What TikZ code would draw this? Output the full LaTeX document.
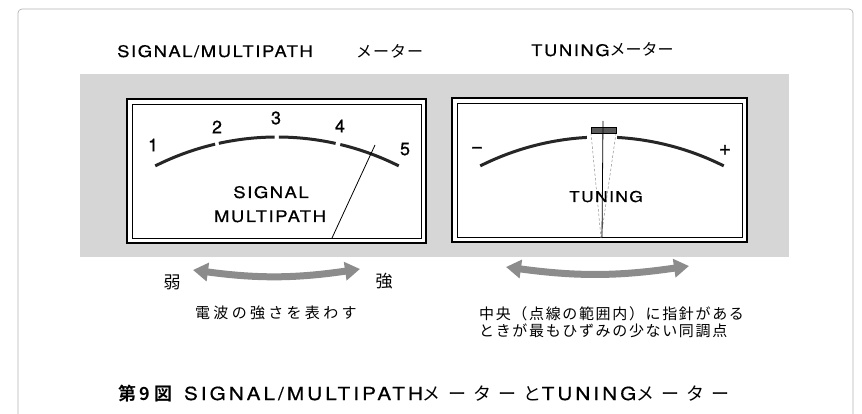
\documentclass[tikz,border=0pt]{standalone}
\usepackage{fontspec}
\usetikzlibrary{arrows.meta}
% Latin lettering: a wide, loosely spaced grotesque
\newfontfamily\lat[FakeStretch=1.15,LetterSpace=10,FakeBold=0.6]{TeX Gyre Heros}
\newfontfamily\latcap[FakeStretch=1.15,LetterSpace=17,FakeBold=0.6]{TeX Gyre Heros}
\newfontfamily\dig[FakeBold=0.8]{TeX Gyre Heros}
% Japanese lettering
\newfontfamily\jp{Noto Sans CJK JP}
\newfontfamily\jptitle[LetterSpace=6]{Noto Sans CJK JP}
\newfontfamily\jpwide[LetterSpace=22]{Noto Sans CJK JP}
\newfontfamily\jpnote[LetterSpace=11]{Noto Sans CJK JP}
\newfontfamily\jpcap[LetterSpace=40]{Noto Sans CJK JP}
\newfontfamily\jpbold[LetterSpace=20]{Noto Sans CJK JP Bold}
\newcommand\fs[1]{\fontsize{#1}{#1}\selectfont}
\begin{document}
\begin{tikzpicture}[x=1pt,y=-1pt,
  frame/.style={draw=black!30,line width=0.7pt},
  band/.style={fill=black!16},
  outerbox/.style={draw=black,line width=2pt,fill=white},
  innerbox/.style={draw=black,line width=0.7pt},
  scalearc/.style={draw=black!85,line width=3pt},
  needle/.style={draw=black,line width=0.8pt},
  zone/.style={draw=black!45,line width=0.5pt,dash pattern=on 2.5pt off 2pt},
  label/.style={inner sep=0pt,text=black},
  arrowband/.style={draw=black!45,line width=7pt,
    {Triangle[width=18pt,length=15pt]}-{Triangle[width=18pt,length=15pt]}}
]
\useasboundingbox (0,0) rectangle (862,414);

% outer frame and shaded band
\draw[frame,rounded corners=4pt] (18,414) -- (18,9) -- (853,9) -- (853,414);
\fill[band] (80,74) rectangle (789,257);

% headings
\node[label,anchor=base west] (hsig) at (117,57) {\fs{16}\lat SIGNAL/MULTIPATH};
\node[label,anchor=base west] (hsigk) at (356,58) {\fs{16}\jptitle メーター};
\node[label,anchor=base west] (htun) at (531,56) {\fs{16}\lat TUNING\jp メーター};

% ---------- SIGNAL/MULTIPATH meter ----------
\draw[outerbox] (127,99) rectangle (426,243);
\draw[innerbox] (132,104) rectangle (421,238);
\coordinate (cs) at (277,408);
\draw[scalearc] ([shift={(-116.7:271)}]cs) arc[start angle=-116.7,end angle=-103.2,radius=271];
\draw[scalearc] ([shift={(-102.4:271)}]cs) arc[start angle=-102.4,end angle=-90.5,radius=271];
\draw[scalearc] ([shift={(-89.6:271)}]cs) arc[start angle=-89.6,end angle=-77.5,radius=271];
\draw[scalearc] ([shift={(-76.5:271)}]cs) arc[start angle=-76.5,end angle=-63.3,radius=271];
\node[label] (n1) at (153,145) {\fs{18}\dig 1};
\node[label] (n2) at (217,127) {\fs{18}\dig 2};
\node[label] (n3) at (276,118) {\fs{18}\dig 3};
\node[label] (n4) at (340,126) {\fs{18}\dig 4};
\node[label] (n5) at (405,149) {\fs{18}\dig 5};
\node[label,anchor=base] (lsig) at (271,198) {\fs{16}\lat SIGNAL};
\node[label,anchor=base] (lmul) at (270,222) {\fs{16}\lat MULTIPATH};
\coordinate (ntip) at (375,145);
\coordinate (nfoot) at (332,238);
\draw[needle] (ntip) -- (nfoot);

% ---------- TUNING meter ----------
\draw[outerbox] (452,98) rectangle (747,242);
\draw[innerbox] (457,103) rectangle (742,237);
\coordinate (ct) at (602,408);
\draw[scalearc] ([shift={(-116.7:271)}]ct) arc[start angle=-116.7,end angle=-93.2,radius=271];
\draw[scalearc] ([shift={(-86.8:271)}]ct) arc[start angle=-86.8,end angle=-63.3,radius=271];
\coordinate (zl) at (591,133);
\coordinate (zr) at (616,133);
\coordinate (zf) at (601,238);
\draw[zone] (zl) -- (zf);
\draw[zone] (zr) -- (zf);
\draw[fill=black!65,draw=black,line width=0.6pt] (591,127) rectangle (616,133);
\coordinate (ttip) at (603,121);
\coordinate (tfoot) at (602,238);
\draw[needle] (ttip) -- (tfoot);
\node[label] (nminus) at (477,150) {\fs{21}\dig −};
\node[label] (nplus) at (725,150) {\fs{21}\dig +};
\node[label,anchor=base] (ltun) at (606,202) {\fs{15}\lat TUNING};

% ---------- arrows and notes ----------
\coordinate (al) at (193,270);
\coordinate (ar) at (360,269);
\draw[arrowband] (al) to[bend right=8] (ar);
\coordinate (bl) at (506,267);
\coordinate (br) at (689,266);
\draw[arrowband] (bl) to[bend right=8] (br);
\node[label,anchor=base] (weak) at (172,288) {\fs{17}\jp 弱};
\node[label,anchor=base] (strong) at (384,287) {\fs{17}\jp 強};
\node[label,anchor=base west] (note1) at (195,318) {\fs{15}\jpwide 電波の強さを表わす};
\node[label,anchor=base west] (note2) at (479,319) {\fs{15}\jpnote 中央（点線の範囲内）に指針がある};
\node[label,anchor=base west] (note3) at (479,336) {\fs{15}\jpnote ときが最もひずみの少ない同調点};

% ---------- caption ----------
\node[label,anchor=base west] (cap) at (118,400)
  {\fs{18}\jpbold 第9図\hspace{12pt}\latcap SIGNAL/MULTIPATH\jpcap メーターと\latcap TUNING\jpcap メーター};
\end{tikzpicture}
\end{document}
